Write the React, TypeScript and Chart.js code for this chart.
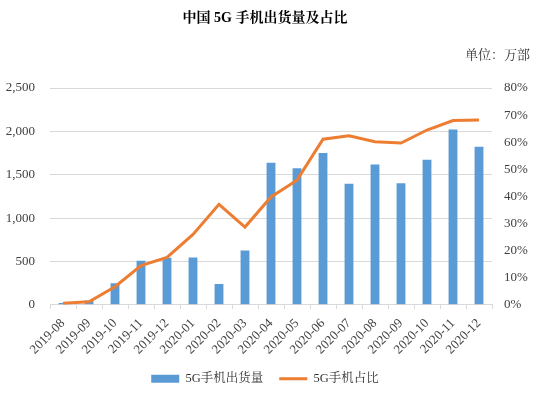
import React, { useEffect, useRef } from "react";
import { Chart, registerables } from "chart.js";

Chart.register(...registerables);

const months = [
  "2019-08", "2019-09", "2019-10", "2019-11", "2019-12",
  "2020-01", "2020-02", "2020-03", "2020-04", "2020-05", "2020-06",
  "2020-07", "2020-08", "2020-09", "2020-10", "2020-11", "2020-12",
];
const shipments = [22, 50, 249, 507, 543, 547, 239, 626, 1638, 1574, 1751, 1396, 1618, 1402, 1672, 2021, 1823];
const sharePct = [0.6, 1.1, 6.7, 14.5, 17.5, 26.0, 37.1, 28.7, 39.8, 46.0, 61.1, 62.4, 60.2, 59.7, 64.5, 68.0, 68.2];
const leftTicksMax = 2500;
const rightTicksMax = 80;

const FONT = "'Liberation Serif', 'Times New Roman', 'Noto Serif CJK SC', 'Noto Sans CJK SC', serif";

export default function App() {
  const ref = useRef<HTMLCanvasElement>(null);
  useEffect(() => {
    document.body.style.margin = "0";
    const chart = new Chart(ref.current!, {
      type: "bar",
      data: {
        labels: months,
        datasets: [
          {
            type: "line",
            label: "5G手机占比",
            data: sharePct,
            yAxisID: "y1",
            borderColor: "#ED7D31",
            backgroundColor: "#ED7D31",
            borderWidth: 3,
            pointRadius: 0,
            tension: 0,
            pointStyle: "line",
            order: 0,
          } as any,
          {
            type: "bar",
            label: "5G手机出货量",
            data: shipments,
            yAxisID: "y",
            backgroundColor: "#5B9BD5",
            borderWidth: 0,
            barPercentage: 0.34,
            categoryPercentage: 1,
            pointStyle: "rect",
            order: 1,
          } as any,
        ],
      },
      options: {
        animation: false,
        responsive: true,
        maintainAspectRatio: false,
        layout: { padding: { left: 0, right: 10, top: 4, bottom: 1 } },
        font: { family: FONT },
        plugins: {
          title: {
            display: true,
            text: "中国 5G 手机出货量及占比",
            font: { family: FONT, size: 14, weight: "bold" },
            color: "#000",
            padding: { top: 6, bottom: 21 },
          },
          subtitle: {
            display: true,
            text: "单位：万部",
            align: "end",
            font: { family: FONT, size: 13 },
            color: "#333",
            padding: { top: 0, bottom: 24.6 },
          },
          legend: {
            position: "bottom",
            reverse: true,
            labels: {
              usePointStyle: true,
              pointStyleWidth: 28,
              boxHeight: 8,
              font: { family: FONT, size: 12.5 },
              color: "#333",
              padding: 16,
            },
          },
          tooltip: { enabled: false },
        },
        scales: {
          x: {
            grid: {
              display: true,
              drawOnChartArea: false,
              drawTicks: true,
              tickLength: 4,
              color: "#d9d9d9",
              offset: true,
            },
            border: { display: true, color: "#d9d9d9" },
            ticks: {
              maxRotation: 45,
              minRotation: 45,
              autoSkip: false,
              font: { family: FONT, size: 13 },
              color: "#404040",
              padding: 7,
            },
            afterFit: (s: any) => {
              s.paddingLeft = 0;
              s.paddingRight = 0;
              s.height = s.height - 8;
            },
          },
          y: {
            position: "left",
            min: 0,
            max: leftTicksMax,
            ticks: {
              stepSize: 500,
              font: { family: FONT, size: 13 },
              color: "#404040",
              padding: 15,
              callback: (v: any) => Number(v).toLocaleString("en-US"),
            },
            grid: { color: "#d9d9d9", drawTicks: false },
            border: { display: false },
            afterFit: (s: any) => {
              s.width = 50;
            },
          },
          y1: {
            position: "right",
            min: 0,
            max: rightTicksMax,
            ticks: {
              stepSize: 10,
              font: { family: FONT, size: 13 },
              color: "#404040",
              padding: 12,
              callback: (v: any) => `${v}%`,
            },
            grid: { display: false, drawTicks: false },
            border: { display: false },
            afterFit: (s: any) => {
              s.width = 38;
            },
          },
        },
      },
    });
    return () => chart.destroy();
  }, []);
  return (
    <div style={{ width: 540, height: 396, position: "relative" }}>
      <canvas ref={ref} />
    </div>
  );
}
